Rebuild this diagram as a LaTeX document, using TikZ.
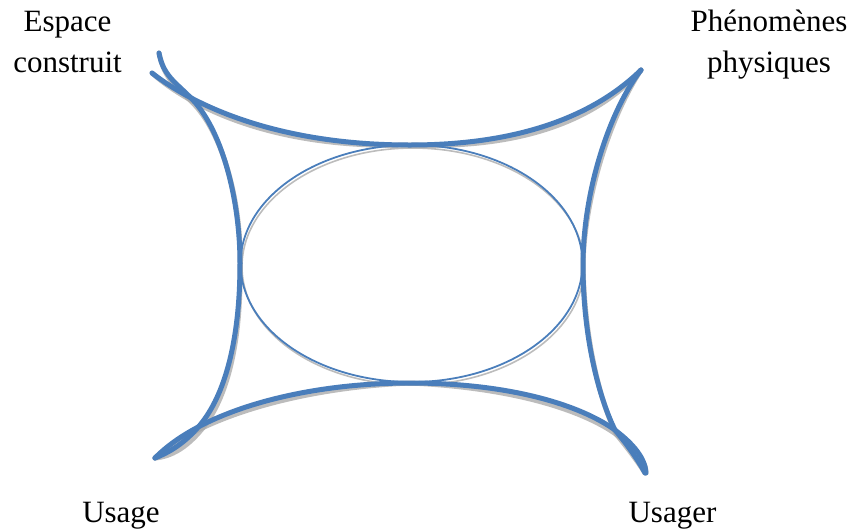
\documentclass[tikz,border=0pt]{standalone}
\usepackage{fontspec}
\setmainfont{Liberation Serif}
\definecolor{curveblue}{HTML}{4A7EBB}
\definecolor{shadowgray}{HTML}{A6A6A6}
\begin{document}
\begin{tikzpicture}[x=1pt,y=-1pt,
  thickcurve/.style={draw=curveblue,line width=5pt,line cap=round},
  thincurve/.style={draw=curveblue,line width=1.8pt},
  thickshadow/.style={draw=shadowgray,line width=5pt,line cap=round,shift={(1.5,4.5)},opacity=0.75},
  thinshadow/.style={draw=shadowgray,line width=1.6pt,shift={(1.5,3)},opacity=0.75},
  lbl/.style={font=\fontsize{31}{41}\selectfont,inner sep=0pt,align=center,anchor=base}]
\useasboundingbox (0,0) rectangle (854,531);

% corner coordinates
\coordinate (tl1) at (152,73);
\coordinate (tl2) at (159,53);
\coordinate (tr) at (641,70);
\coordinate (bl) at (155,458);
\coordinate (brb) at (645,473);
\coordinate (brr) at (646,473);
\coordinate (ttop) at (410,145);
\coordinate (tbot) at (410,383);
\coordinate (tleft) at (240,263);
\coordinate (tright) at (583,265);

% shadows
\path[thinshadow] (411.5,263.5) ellipse [x radius=171, y radius=118.5];
\path[thickshadow] (tl1) .. controls (180,95) and (260,145) .. (ttop) .. controls (530,145) and (600,110) .. (tr);
\path[thickshadow] (bl) .. controls (200,412) and (300,383) .. (tbot) .. controls (510,383) and (580,405) .. (615,430) .. controls (625,442) and (637,458) .. (brb);
\path[thickshadow] (tl2) .. controls (163,75) and (175,82) .. (190,97) .. controls (222,128) and (240,200) .. (tleft) .. controls (240,340) and (225,395) .. (200,425) .. controls (185,443) and (170,452) .. (bl);
\path[thickshadow] (tr) .. controls (610,110) and (583,190) .. (tright) .. controls (583,340) and (600,400) .. (615,430) .. controls (628,440) and (645,455) .. (brr);

% ellipse
\path[thincurve] (411.5,263.5) ellipse [x radius=171, y radius=118.5];

% outer curves
\path[thickcurve] (tl1) .. controls (180,95) and (260,145) .. (ttop) .. controls (530,145) and (600,110) .. (tr);
\path[thickcurve] (bl) .. controls (200,412) and (300,383) .. (tbot) .. controls (510,383) and (580,405) .. (615,430) .. controls (625,442) and (637,458) .. (brb);
\path[thickcurve] (tl2) .. controls (163,75) and (175,82) .. (190,97) .. controls (222,128) and (240,200) .. (tleft) .. controls (240,340) and (225,395) .. (200,425) .. controls (185,443) and (170,452) .. (bl);
\path[thickcurve] (tr) .. controls (610,110) and (583,190) .. (tright) .. controls (583,340) and (600,400) .. (615,430) .. controls (628,440) and (645,455) .. (brr);

% labels
\node[lbl] (espace) at (67.5,72) {Espace\\construit};
\node[lbl] (phen) at (769,72) {Phénomènes\\physiques};
\node[lbl] (usage) at (121,522) {Usage};
\node[lbl] (usager) at (672.5,522) {Usager};
\end{tikzpicture}
\end{document}
